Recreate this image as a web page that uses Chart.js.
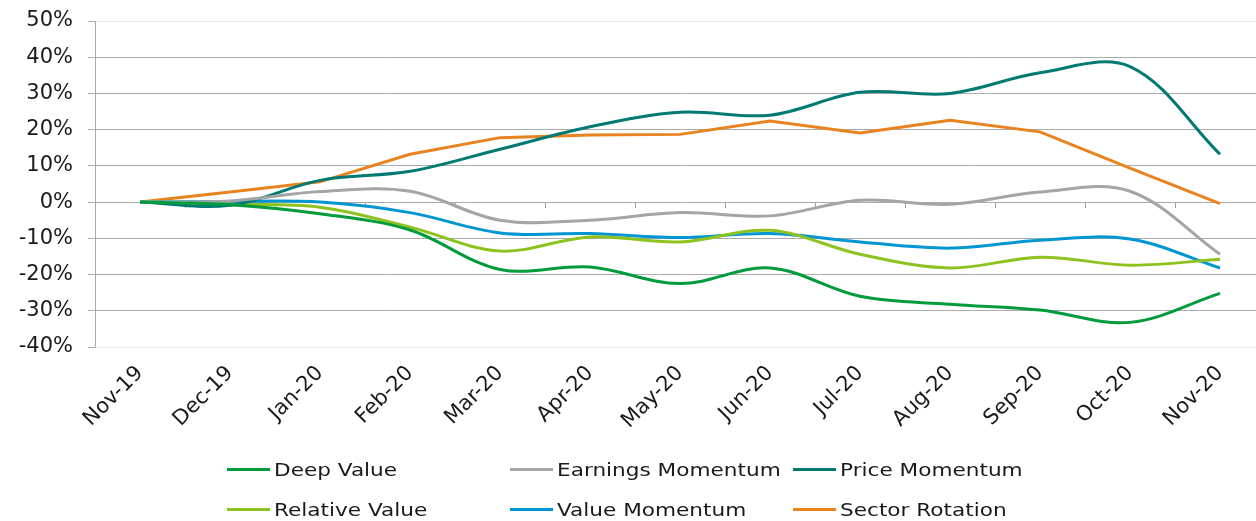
<!DOCTYPE html>
<html>
<head>
<meta charset="utf-8">
<script src="https://cdn.jsdelivr.net/npm/chart.js@4/dist/chart.umd.min.js"></script>
<style>
  html, body { margin: 0; padding: 0; overflow: hidden; background: #fff; width: 1256px; height: 521px; }
  #wrap { position: absolute; left: 0; top: 0; width: 1266px; height: 521px; }
  canvas { display: block; }
  .lg-line { position: absolute; width: 43px; height: 3px; }
  .lg-text { position: absolute; font-family: "DejaVu Sans", Verdana, sans-serif; font-size: 18px; line-height: 20px; color: #1a1a1a; white-space: nowrap; transform: scaleX(1.2); transform-origin: left center; }
</style>
</head>
<body>
<div id="wrap">
  <canvas id="c" width="1266" height="521" style="width:1266px;height:521px"></canvas>
  <div id="legend"></div>
</div>
<script>
const categories = ['Nov-19','Dec-19','Jan-20','Feb-20','Mar-20','Apr-20','May-20','Jun-20','Jul-20','Aug-20','Sep-20','Oct-20','Nov-20'];
const deepValue        = [0, -0.7, -3.2, -7.7, -18.6, -17.9, -22.5, -18.2, -26.0, -28.2, -29.8, -33.2, -25.2];
const earningsMomentum = [0,  0.3,  2.9,  3.0,  -5.0,  -5.0,  -2.9,  -3.8,   0.5,  -0.6,   2.8,   3.0, -14.4];
const priceMomentum    = [0, -0.9,  6.0,  8.5,  14.6,  20.8,  24.8,  24.0,  30.3,  30.0,  35.7,  37.4,  13.2];
const relativeValue    = [0, -0.6, -1.4, -6.9, -13.5,  -9.6, -11.0,  -7.8, -14.4, -18.2, -15.2, -17.4, -15.8];
const valueMomentum    = [0,  0.2,  0.0, -2.9,  -8.5,  -8.7,  -9.8,  -8.7, -11.0, -12.7, -10.5, -10.2, -18.2];
const sectorRotation   = [0,  2.8,  5.6, 13.2,  17.8,  18.5,  18.7,  22.4,  19.1,  22.6,  19.4,   9.4,  -0.4];
const seriesNames = ['Deep Value','Earnings Momentum','Price Momentum','Relative Value','Value Momentum','Sector Rotation'];
const yTickMin = -40, yTickMax = 50, yTickStep = 10;

const colors = ['#009B3A','#A5A5A5','#007A72','#8DC21F','#0096D2','#E8831F'];
const seriesData = [deepValue, earningsMomentum, priceMomentum, relativeValue, valueMomentum, sectorRotation];
const tensions = [0.35, 0.35, 0.35, 0.35, 0.35, 0];

const datasets = seriesNames.map((n, i) => ({
  label: n,
  data: seriesData[i],
  borderColor: colors[i],
  backgroundColor: colors[i],
  borderWidth: 3,
  pointRadius: 0,
  pointHoverRadius: 0,
  tension: tensions[i],
  fill: false,
  xAxisID: 'x'
}));

const FONT = '"DejaVu Sans", Verdana, sans-serif';

new Chart(document.getElementById('c'), {
  type: 'line',
  data: { labels: categories, datasets },
  options: {
    responsive: false,
    animation: false,
    devicePixelRatio: 1,
    layout: { padding: { top: 21, right: 1, bottom: 74, left: 0 } },
    plugins: { legend: { display: false }, tooltip: { enabled: false } },
    scales: {
      x: {
        type: 'category',
        position: 'bottom',
        offset: true,
        grid: { display: false, drawTicks: false },
        border: { display: false },
        ticks: { color: '#1a1a1a', font: { family: FONT, size: 21 }, minRotation: 45, maxRotation: 45, padding: 14, autoSkip: false },
        afterFit: s => { s.height = 100; s.paddingTop = 0; s.paddingLeft = 0; s.paddingRight = 0; }
      },
      x0: {
        type: 'category',
        position: { y: 0 },
        offset: true,
        grid: { display: true, offset: true, drawOnChartArea: false, drawTicks: true, tickLength: 6, color: '#9E9E9E', lineWidth: 1 },
        border: { display: false },
        ticks: { display: false },
        afterFit: s => { s.paddingTop = 0; s.paddingBottom = 0; s.paddingLeft = 0; s.paddingRight = 0; }
      },
      y: {
        min: yTickMin, max: yTickMax,
        ticks: { stepSize: yTickStep, color: '#1a1a1a', font: { family: FONT, size: 21 }, padding: 15, callback: v => v + '%' },
        grid: {
          color: ctx => (ctx.tick && (ctx.tick.value === yTickMax || ctx.tick.value === yTickMin)) ? '#EBEBEB' : '#ABABAB',
          tickColor: '#ABABAB', tickLength: 7, drawTicks: true, lineWidth: 1
        },
        border: { display: true, color: '#ABABAB', width: 1 },
        afterFit: s => { s.width = 95; s.paddingTop = 0; s.paddingBottom = 0; }
      }
    }
  }
});

// HTML legend (two rows, three columns)
const legendCols = [227, 510, 793];
const legendRows = [469, 509];
const lg = document.getElementById('legend');
seriesNames.forEach((n, i) => {
  const col = i % 3, row = Math.floor(i / 3);
  const line = document.createElement('div');
  line.className = 'lg-line';
  line.style.left = legendCols[col] + 'px';
  line.style.top = (legendRows[row] - 1) + 'px';
  line.style.background = colors[i];
  lg.appendChild(line);
  const t = document.createElement('div');
  t.className = 'lg-text';
  t.textContent = n;
  t.style.left = (legendCols[col] + 47) + 'px';
  t.style.top = (legendRows[row] - 9) + 'px';
  lg.appendChild(t);
});
</script>
</body>
</html>
